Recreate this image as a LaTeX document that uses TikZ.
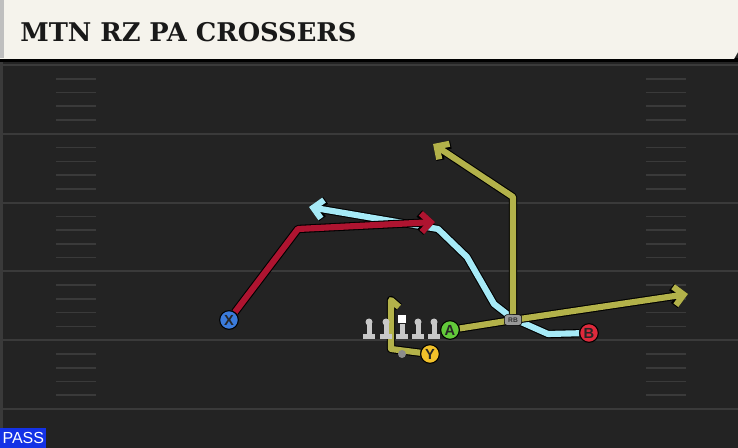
\documentclass[tikz,border=0pt]{standalone}
\usepackage{fontspec}
\setsansfont{Liberation Sans}
\newfontfamily\titlefont{DejaVu Serif}
\usetikzlibrary{arrows.meta}

\definecolor{fieldbg}{HTML}{232323}
\definecolor{yardline}{HTML}{3A3A3A}
\definecolor{banner}{HTML}{F5F3EC}
\definecolor{routeolive}{HTML}{B3B24A}
\definecolor{routered}{HTML}{AE1430}
\definecolor{routecyan}{HTML}{A6EAF7}
\definecolor{xblue}{HTML}{3B7BDB}
\definecolor{agreen}{HTML}{62C93A}
\definecolor{bred}{HTML}{DE2A3C}
\definecolor{yyellow}{HTML}{F2C12A}
\definecolor{passblue}{HTML}{1432E6}
\definecolor{linegray}{HTML}{C8C8C8}

\pgfdeclarelayer{field}
\pgfdeclarelayer{routes}
\pgfsetlayers{field,routes,main}

\tikzset{every picture/.style={line width=0.75pt}}
\tikzset{
    player/.style={circle, draw=black, line width=0.8pt, minimum size=14pt, inner sep=0pt, text=black!85, font=\sffamily\bfseries\fontsize{11}{11}\selectfont},
    rbbox/.style={draw=black, fill=black!40, rounded corners=2pt, minimum width=13pt, minimum height=8pt, inner sep=0pt, text=black!80, font=\sffamily\bfseries\fontsize{5}{5}\selectfont},
    routeback/.style={draw=black, line width=6.2pt, line join=round},
    routepath/.style={line width=4.6pt, line join=round},
    routetip/.style={-{Straight Barb[length=7pt,width=14pt]}},
    hashmark/.style={draw=yardline, line width=1.2pt},
}

\begin{document}
\begin{tikzpicture}[x=0.75pt,y=0.75pt,yscale=-1,xscale=1]
    \useasboundingbox (0,0) rectangle (738,448);

    \begin{pgfonlayer}{field}
    %Shape: Rectangle [field]
    \fill[fieldbg] (0,0) rectangle (738,448);
    %Straight Lines [yard lines]
    \foreach \k in {0,...,5} {
        \draw[yardline, line width=1.5pt] (0,65+68.8*\k) -- (738,65+68.8*\k);
    }
    %Straight Lines [hash marks]
    \foreach \k in {0,...,4} {
        \foreach \j in {1,...,4} {
            \draw[hashmark] (56,65+68.8*\k+13.76*\j) -- (96,65+68.8*\k+13.76*\j);
            \draw[hashmark] (646,65+68.8*\k+13.76*\j) -- (686,65+68.8*\k+13.76*\j);
        }
    }
    %Shape: Rectangle [left border]
    \fill[yardline] (0,60) rectangle (2.5,448);
    %Shape: Rectangle [banner]
    \fill[black] (0,58) rectangle (738,62);
    \fill[banner] (0,0) -- (738,0) -- (738,52) -- (734,59) -- (0,59) -- cycle;
    \fill[black!25] (0,0) rectangle (4,58);
    \end{pgfonlayer}

    % Text Node
    \node[anchor=west, inner sep=0pt, text=black!90, font=\titlefont\bfseries\fontsize{19.3}{19.3}\selectfont] (title) at (20,32) {MTN RZ PA CROSSERS};
    % Text Node
    \node[anchor=south west, fill=passblue, text=white, minimum width=34.5pt, minimum height=15pt, inner sep=0pt, font=\sffamily\fontsize{12}{12}\selectfont] (pass) at (0,448) {PASS};

    %Shape: linemen
    \foreach \lx in {369,386,418,434} {
        \fill[linegray] (\lx,322) circle (3.5);
    }
    \foreach \lx in {369,386,402,418,434} {
        \fill[linegray] (\lx-2.5,324) rectangle (\lx+2.5,334);
        \fill[linegray] (\lx-6,334) rectangle (\lx+6,339);
    }
    \fill[white] (398,315) rectangle (406,323);

    % players
    \node[circle, fill=black!45, minimum size=6pt, inner sep=0pt] (qb) at (402,354) {};
    \node[player, fill=xblue] (X) at (229,320) {X};
    \node[player, fill=agreen] (A) at (450,330) {A};
    \node[player, fill=bred] (B) at (589,333) {B};
    \node[player, fill=yyellow] (Y) at (430,354) {Y};
    \node[rbbox] (RB) at (513,320) {RB};

    % route points
    \coordinate (xbreak) at (298,229);
    \coordinate (xend) at (435,222);
    \coordinate (b1) at (548,334);
    \coordinate (b2) at (512,318);
    \coordinate (b3) at (494,304);
    \coordinate (b4) at (467,257);
    \coordinate (b5) at (438,229);
    \coordinate (bend) at (309,207);
    \coordinate (aend) at (688,294);
    \coordinate (rbbreak) at (513,197);
    \coordinate (rbend) at (433,144);
    \coordinate (y1) at (391,349);
    \coordinate (y2) at (391,300);
    \coordinate (yflag) at (399,307);

    \begin{pgfonlayer}{routes}
    %Straight Lines [B]
    \draw[routeback, routetip] (B) -- (b1) -- (b2) -- (b3) -- (b4) -- (b5) -- (bend);
    \draw[routepath, routecyan, routetip] (B) -- (b1) -- (b2) -- (b3) -- (b4) -- (b5) -- (bend);
    %Straight Lines [X]
    \draw[routeback, routetip] (X) -- (xbreak) -- (xend);
    \draw[routepath, routered, routetip] (X) -- (xbreak) -- (xend);
    %Straight Lines [RB]
    \draw[routeback, routetip] (RB) -- (rbbreak) -- (rbend);
    \draw[routepath, routeolive, routetip] (RB) -- (rbbreak) -- (rbend);
    %Straight Lines [A]
    \draw[routeback, routetip] (A) -- (RB.center) -- (aend);
    \draw[routepath, routeolive, routetip] (A) -- (RB.center) -- (aend);
    %Straight Lines [Y]
    \draw[routeback] (Y) -- (y1) -- (y2) -- (yflag);
    \draw[routepath, routeolive] (Y) -- (y1) -- (y2) -- (yflag);
    \end{pgfonlayer}

\end{tikzpicture}
\end{document}
